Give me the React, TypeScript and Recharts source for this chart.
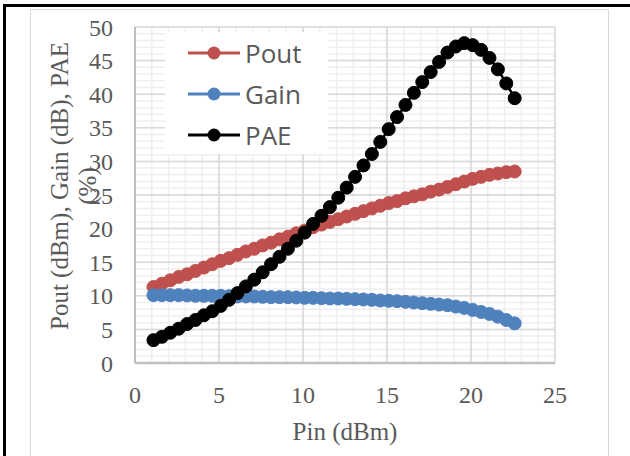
import { LineChart, Line, XAxis, YAxis, CartesianGrid, Legend } from 'recharts';

const pin = [
  1.1, 1.6, 2.1, 2.6, 3.1, 3.6, 4.1, 4.6, 5.1, 5.6, 6.1, 6.6, 7.1, 7.6, 8.1, 8.6, 9.1, 9.6, 10.1, 10.6, 11.1, 11.6,
  12.1, 12.6, 13.1, 13.6, 14.1, 14.6, 15.1, 15.6, 16.1, 16.6, 17.1, 17.6, 18.1, 18.6, 19.1, 19.6, 20.1, 20.6, 21.1,
  21.6, 22.1, 22.6,
];
const pout = [
  11.3, 11.8, 12.3, 12.8, 13.2, 13.7, 14.2, 14.7, 15.2, 15.6, 16.1, 16.6, 17.0, 17.5, 17.9, 18.4, 18.8, 19.3, 19.7,
  20.2, 20.6, 21.0, 21.4, 21.8, 22.2, 22.6, 23.0, 23.4, 23.8, 24.1, 24.5, 24.8, 25.1, 25.5, 25.8, 26.2, 26.6, 27.0,
  27.4, 27.7, 28.0, 28.2, 28.4, 28.5,
];
const gain = [
  10.1, 10.1, 10.1, 10.1, 10.05, 10.0, 10.0, 10.0, 10.0, 9.95, 9.9, 9.9, 9.9, 9.85, 9.8, 9.8, 9.8, 9.75, 9.7, 9.7,
  9.65, 9.6, 9.6, 9.55, 9.5, 9.45, 9.4, 9.3, 9.25, 9.2, 9.1, 9.0, 8.9, 8.8, 8.7, 8.6, 8.4, 8.2, 7.9, 7.6, 7.3, 6.9,
  6.4, 5.9,
];
const pae = [
  3.4, 3.9, 4.5, 5.1, 5.8, 6.4, 7.1, 7.7, 8.5, 9.4, 10.4, 11.4, 12.4, 13.5, 14.7, 15.8, 17.0, 18.2, 19.4, 20.7, 21.9,
  23.2, 24.6, 26.1, 27.7, 29.4, 31.1, 32.9, 34.8, 36.6, 38.4, 40.2, 41.8, 43.3, 44.8, 46.2, 47.1, 47.6, 47.3, 46.6,
  45.4, 43.7, 41.6, 39.4,
];

const xTicks = [0, 5, 10, 15, 20, 25];
const yTicks = [0, 5, 10, 15, 20, 25, 30, 35, 40, 45, 50];
const xMinor = Array.from({ length: 26 }, (_, i) => i);
const yMinor = Array.from({ length: 51 }, (_, i) => i);

const series = [
  { key: 'pout', name: 'Pout', color: '#C0504D' },
  { key: 'gain', name: 'Gain', color: '#4F81BD' },
  { key: 'pae', name: 'PAE', color: '#000000' },
];

const data = pin.map((p, i) => ({ pin: p, pout: pout[i], gain: gain[i], pae: pae[i] }));

const serif = '"Liberation Serif", "Times New Roman", serif';
const textGray = '#595959';

function LegendBox() {
  return (
    <div style={{ background: '#fff', width: 163, height: 122, position: 'relative' }}>
      {series.map((s, i) => (
        <div key={s.key} style={{ position: 'absolute', left: 0, top: 21 + i * 41 - 16, height: 32, display: 'flex', alignItems: 'center' }}>
          <svg width={80} height={32} style={{ display: 'block' }}>
            <line x1={23} y1={16} x2={75} y2={16} stroke={s.color} strokeWidth={3} />
            <circle cx={49} cy={16} r={6.5} fill={s.color} />
          </svg>
          <span style={{ fontFamily: '"Open Sans", sans-serif', fontSize: 26, color: textGray, lineHeight: '32px' }}>{s.name}</span>
        </div>
      ))}
    </div>
  );
}

const renderXTick = (p: any) => (
  <text
    key={`x-${p.payload.value}`}
    x={p.x}
    y={p.y}
    dy="0.71em"
    textAnchor="middle"
    fill={textGray}
    fontSize={24}
    style={{ fontFamily: serif }}
  >
    {p.payload.value}
  </text>
);

const renderYTick = (p: any) => (
  <text
    key={`y-${p.payload.value}`}
    x={p.x}
    y={p.y}
    dy="0.355em"
    textAnchor="end"
    fill={textGray}
    fontSize={24}
    style={{ fontFamily: serif }}
  >
    {p.payload.value}
  </text>
);

function YTitle(props: any) {
  const vb = props.viewBox || { x: 35, y: 27, height: 336 };
  const cy = 186;
  const x1 = vb.x + 33;
  const x2 = vb.x + 61;
  return (
    <g fill={textGray} style={{ fontFamily: serif }} fontSize={25}>
      <text x={x1} y={cy} textAnchor="middle" transform={`rotate(-90, ${x1}, ${cy})`}>
        Pout (dBm), Gain (dB), PAE
      </text>
      <text x={x2} y={cy} textAnchor="middle" transform={`rotate(-90, ${x2}, ${cy})`}>
        (%)
      </text>
    </g>
  );
}

function XTitle(props: any) {
  const vb = props.viewBox || { x: 135, y: 363, width: 420 };
  return (
    <text x={vb.x + vb.width / 2} y={440} textAnchor="middle" fill={textGray} style={{ fontFamily: serif }} fontSize={25}>
      Pin (dBm)
    </text>
  );
}

export default function App() {
  return (
    <div style={{ position: 'absolute', left: 0, top: 0, width: 630, height: 456, background: '#fff', overflow: 'hidden', fontFamily: serif }}>
      <div style={{ position: 'absolute', left: 3, top: 4, width: 700, height: 600, borderLeft: '3px solid #000', borderTop: '3px solid #000' }} />
      <div style={{ position: 'absolute', left: 30, top: 9, width: 577, height: 600, border: '1.5px solid #d9d9d9' }} />
      <div style={{ position: 'absolute', left: 0, top: 0 }}>
        <LineChart width={630} height={456} data={data} margin={{ top: 27, right: 75, left: 35, bottom: 33 }}>
          <CartesianGrid stroke="#efefef" strokeWidth={1.5} horizontalValues={yMinor} verticalValues={xMinor} />
          <CartesianGrid stroke="#d9d9d9" strokeWidth={1.5} horizontalValues={yTicks} verticalValues={xTicks} />
          <XAxis
            dataKey="pin"
            type="number"
            domain={[0, 25]}
            ticks={xTicks}
            interval={0}
            height={60}
            tickLine={false}
            tickSize={0}
            tickMargin={23}
            axisLine={{ stroke: '#bfbfbf', strokeWidth: 2.5 }}
            tick={renderXTick}
            label={<XTitle />}
          />
          <YAxis
            type="number"
            domain={[0, 50]}
            ticks={yTicks}
            interval={0}
            width={100}
            tickLine={false}
            tickSize={0}
            tickMargin={22}
            axisLine={{ stroke: '#bfbfbf', strokeWidth: 2 }}
            tick={renderYTick}
            label={<YTitle />}
          />
          <Legend
            layout="vertical"
            verticalAlign="middle"
            align="center"
            wrapperStyle={{ position: 'absolute', left: 165, top: 32, width: 163, height: 122, margin: 0 }}
            content={() => <LegendBox />}
          />
          {series.map((s) => (
            <Line
              key={s.key}
              dataKey={s.key}
              name={s.name}
              type="linear"
              stroke={s.color}
              strokeWidth={2.5}
              dot={{ r: 6.5, fill: s.color, stroke: s.color, strokeWidth: 1 }}
              activeDot={false}
              isAnimationActive={false}
            />
          ))}
        </LineChart>
      </div>
    </div>
  );
}
